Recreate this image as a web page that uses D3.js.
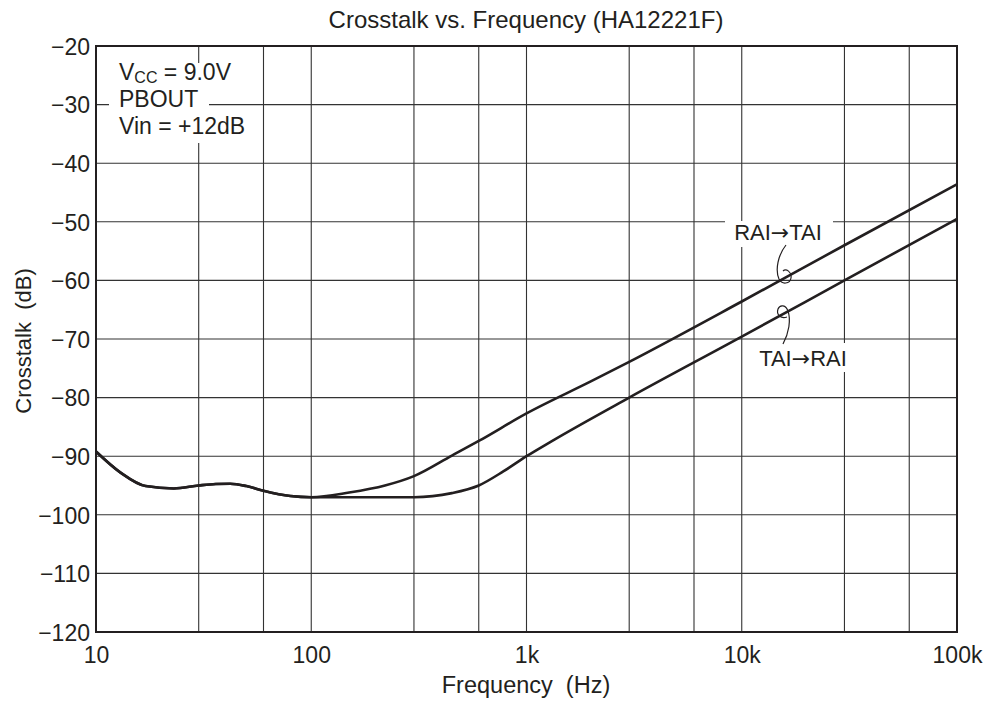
<!DOCTYPE html>
<html>
<head>
<meta charset="utf-8">
<script src="https://cdn.jsdelivr.net/npm/d3@7"></script>
<style>
  html, body { margin: 0; padding: 0; background: #fff; }
  svg { display: block; }
  text { font-family: "Liberation Sans", Arial, Helvetica, sans-serif; fill: #231f20; }
</style>
</head>
<body>
<svg id="chart" width="989" height="704"></svg>
<script>
// ---- data ----
const freqRaiTai = [10, 13, 17, 23, 30, 36, 42, 50, 60, 80, 100, 150, 220, 300, 450, 600, 1000, 2000, 3000, 10000, 30000, 100000];
const dbRaiTai   = [-89.2, -92.8, -95.1, -95.5, -95.0, -94.75, -94.7, -95.1, -95.9, -96.8, -97.0, -96.2, -95.0, -93.4, -89.9, -87.4, -82.7, -77.2, -73.9, -63.6, -54.0, -43.6];
const freqTaiRai = [10, 13, 17, 23, 30, 36, 42, 50, 60, 80, 100, 150, 300, 450, 600, 780, 1000, 1300, 3000, 10000, 30000, 100000];
const dbTaiRai   = [-89.2, -92.8, -95.1, -95.5, -95.0, -94.75, -94.7, -95.1, -95.9, -96.8, -97.0, -97.0, -97.0, -96.3, -95.0, -92.6, -90.0, -87.5, -80.0, -69.6, -60.0, -49.5];
const gridFreqs  = [10, 30, 60, 100, 300, 600, 1000, 3000, 6000, 10000, 30000, 60000, 100000];
const xTickValues = [10, 100, 1000, 10000, 100000];
const xTickLabels = ["10", "100", "1k", "10k", "100k"];
const yTickValues = [-20, -30, -40, -50, -60, -70, -80, -90, -100, -110, -120];
const titleText = "Crosstalk vs. Frequency (HA12221F)";
const xTitle = "Frequency\u00a0\u00a0(Hz)";
const yTitle = "Crosstalk\u00a0\u00a0(dB)";

// ---- layout ----
const L = 96, R = 957, T = 46, B = 632;
const ink = "#231f20";
const svg = d3.select("#chart");
const x = d3.scaleLog().domain([10, 100000]).range([L, R]);
const y = d3.scaleLinear().domain([-120, -20]).range([B, T]);
const fs = 23;

// grid
const grid = svg.append("g").attr("stroke", "#333").attr("stroke-width", 1.1);
grid.selectAll("line.v").data(gridFreqs).join("line")
  .attr("x1", d => x(d)).attr("x2", d => x(d)).attr("y1", T).attr("y2", B);
grid.selectAll("line.h").data(yTickValues).join("line")
  .attr("x1", L).attr("x2", R).attr("y1", d => y(d)).attr("y2", d => y(d));

// white label backgrounds
const bg = svg.append("g").attr("fill", "#fff");
bg.append("rect").attr("x", 109).attr("y", 63).attr("width", 100).attr("height", 80);
bg.append("rect").attr("x", 725).attr("y", 221).attr("width", 108).attr("height", 26);
bg.append("rect").attr("x", 750).attr("y", 343).attr("width", 106).attr("height", 29);

// frame
svg.append("rect").attr("x", L).attr("y", T).attr("width", R - L).attr("height", B - T)
  .attr("fill", "none").attr("stroke", ink).attr("stroke-width", 2);

// axes
const xAxis = d3.axisBottom(x).tickValues(xTickValues).tickSize(0).tickPadding(0)
  .tickFormat((d, i) => xTickLabels[i]);
const gx = svg.append("g").attr("transform", `translate(0,${B})`).call(xAxis);
gx.select(".domain").remove();
gx.selectAll("text").attr("y", 31).attr("dy", 0).style("font-size", fs + "px")
  .style("font-family", "'Liberation Sans', Arial, sans-serif").attr("fill", ink);

const yAxis = d3.axisLeft(y).tickValues(yTickValues).tickSize(0).tickPadding(0)
  .tickFormat(d => "\u2212" + Math.abs(d));
const gy = svg.append("g").attr("transform", `translate(${L - 6},0)`).call(yAxis);
gy.select(".domain").remove();
gy.selectAll("text").attr("x", 0).attr("dy", "0.36em").style("font-size", fs + "px")
  .style("font-family", "'Liberation Sans', Arial, sans-serif").attr("fill", ink);

// curves
const line = d3.line().x(d => x(d[0])).y(d => y(d[1])).curve(d3.curveMonotoneX);
const s1 = freqRaiTai.map((f, i) => [f, dbRaiTai[i]]);
const s2 = freqTaiRai.map((f, i) => [f, dbTaiRai[i]]);
[s2, s1].forEach(s => {
  svg.append("path").attr("d", line(s)).attr("fill", "none")
    .attr("stroke", ink).attr("stroke-width", 2.6).attr("stroke-linejoin", "round");
});

// titles
svg.append("text").attr("x", 526).attr("y", 28).attr("text-anchor", "middle")
  .style("font-size", "24px").text(titleText);
svg.append("text").attr("x", 526).attr("y", 693).attr("text-anchor", "middle")
  .style("font-size", "23.5px").text(xTitle);
svg.append("text").attr("transform", "translate(31,341) rotate(-90)").attr("text-anchor", "middle")
  .style("font-size", "22px").text(yTitle);

// condition annotation
const ann = svg.append("g").style("font-size", fs + "px");
const t1 = ann.append("text").attr("x", 119).attr("y", 80);
t1.append("tspan").text("V");
t1.append("tspan").attr("dy", 3).style("font-size", "16px").text("CC");
t1.append("tspan").attr("dy", -3).text(" = 9.0V");
ann.append("text").attr("x", 119).attr("y", 107).text("PBOUT");
ann.append("text").attr("x", 119).attr("y", 134).text("Vin = +12dB");

// series labels
function seriesLabel(cx, by, a, b) {
  const t = svg.append("text").attr("x", cx).attr("y", by).attr("text-anchor", "middle")
    .style("font-size", "22px");
  t.append("tspan").text(a);
  t.append("tspan").style("font-family", "'DejaVu Sans', sans-serif").style("font-size", "22px").text("\u2192");
  t.append("tspan").text(b);
}
seriesLabel(778, 240, "RAI", "TAI");
seriesLabel(803, 366, "TAI", "RAI");

// leader marks
const leaders = svg.append("g").attr("fill", "none").attr("stroke", ink).attr("stroke-width", 1.2);
leaders.append("path").attr("d", "M786,245 C778,255 775,270 779,279 C782,285 790,284 791,278 C792,272 786,268 783,271");
leaders.append("path").attr("d", "M783,344 C789,333 791,320 788,311 C786,305 780,304 778,309 C776,315 781,319 787,317");
</script>
</body>
</html>
